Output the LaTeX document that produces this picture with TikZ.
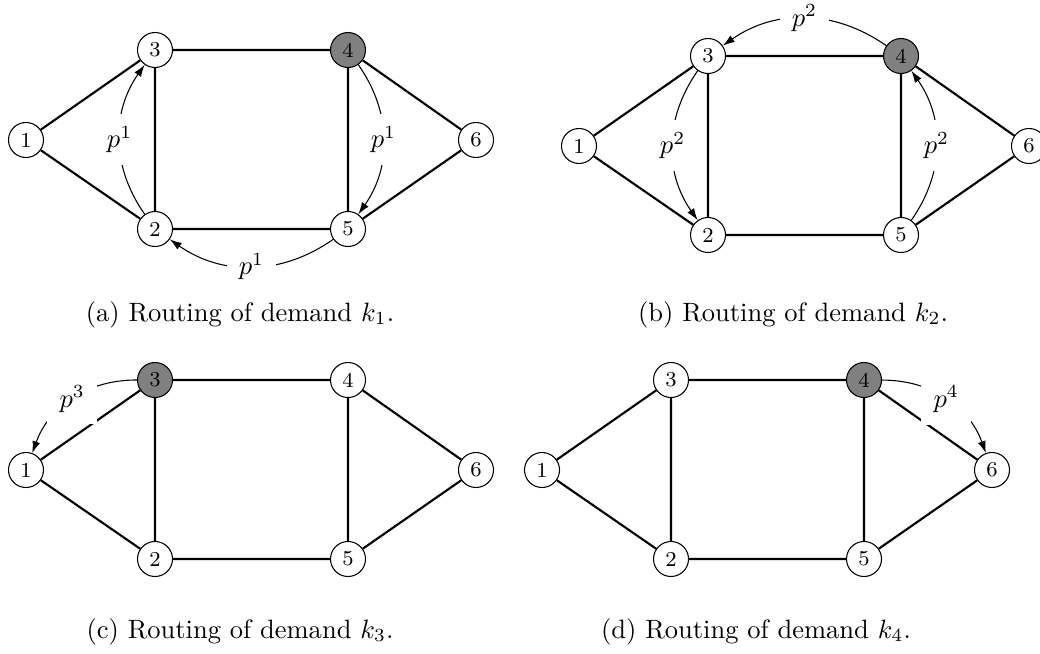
\documentclass[tikz,border=0pt]{standalone}
\usepackage{amsmath,amssymb}
\usepackage{xcolor}
\usepackage{tikz}
\usetikzlibrary{arrows.meta}
\newcommand{\netgraph}[1]{%
  \node[vertex, v1] (#1-1) at (0,0) {1};
  \node[vertex, v2] (#1-2) at (129,-89) {2};
  \node[vertex, v3] (#1-3) at (129,90) {3};
  \node[vertex, v4] (#1-4) at (322,90) {4};
  \node[vertex, v5] (#1-5) at (322,-89) {5};
  \node[vertex, v6] (#1-6) at (450,0) {6};
  \draw[link] (#1-1) -- (#1-3) (#1-1) -- (#1-2) (#1-3) -- (#1-4) (#1-3) -- (#1-2)
              (#1-2) -- (#1-5) (#1-4) -- (#1-5) (#1-4) -- (#1-6) (#1-5) -- (#1-6);
}

\begin{document}
\begin{tikzpicture}[
  x=0.377pt, y=0.377pt,
  vertex/.style={draw, circle, fill=white, minimum size=13.2pt,
                 inner sep=0pt, font=\footnotesize},
  v1/.style={}, v2/.style={}, v3/.style={},
  v4/.style={}, v5/.style={}, v6/.style={},
  src/.style={fill=gray},
  link/.style={thick},
  route/.style={-{Latex[length=4.5pt,width=3pt]}, thin},
  plabel/.style={fill=white, inner sep=4.6pt},
  caption/.style={anchor=base}
]
  \useasboundingbox (0,0) rectangle (1040,-653);

  % (a)
  \begin{scope}[shift={(26,-140)}, v4/.style={src}]
    \netgraph{a}
    \draw[route] (a-2) to[bend left=35] node[plabel] {$p^1$} (a-3);
    \draw[route] (a-4) to[bend left=35] node[plabel] {$p^1$} (a-5);
    \draw[route] (a-5) to[bend left=35] node[plabel] {$p^1$} (a-2);
  \end{scope}
  \node[caption] (capa) at (240,-321) {(a) Routing of demand $k_1$.};

  % (b)
  \begin{scope}[shift={(579,-146)}, v4/.style={src}]
    \netgraph{b}
    \draw[route] (b-4) to[bend right=35] node[plabel] {$p^2$} (b-3);
    \draw[route] (b-3) to[bend right=35] node[plabel] {$p^2$} (b-2);
    \draw[route] (b-5) to[bend right=35] node[plabel] {$p^2$} (b-4);
  \end{scope}
  \node[caption] (capb) at (793,-321) {(b) Routing of demand $k_2$.};

  % (c)
  \begin{scope}[shift={(26,-470)}, v3/.style={src}]
    \netgraph{c}
    \draw[route] (c-3) to[bend right=35] node[plabel] {$p^3$} (c-1);
  \end{scope}
  \node[caption] (capc) at (240,-638) {(c) Routing of demand $k_3$.};

  % (d)
  \begin{scope}[shift={(542,-470)}, v4/.style={src}]
    \netgraph{d}
    \draw[route] (d-4) to[bend left=35] node[plabel] {$p^4$} (d-6);
  \end{scope}
  \node[caption] (capd) at (756,-638) {(d) Routing of demand $k_4$.};
\end{tikzpicture}
\end{document}
